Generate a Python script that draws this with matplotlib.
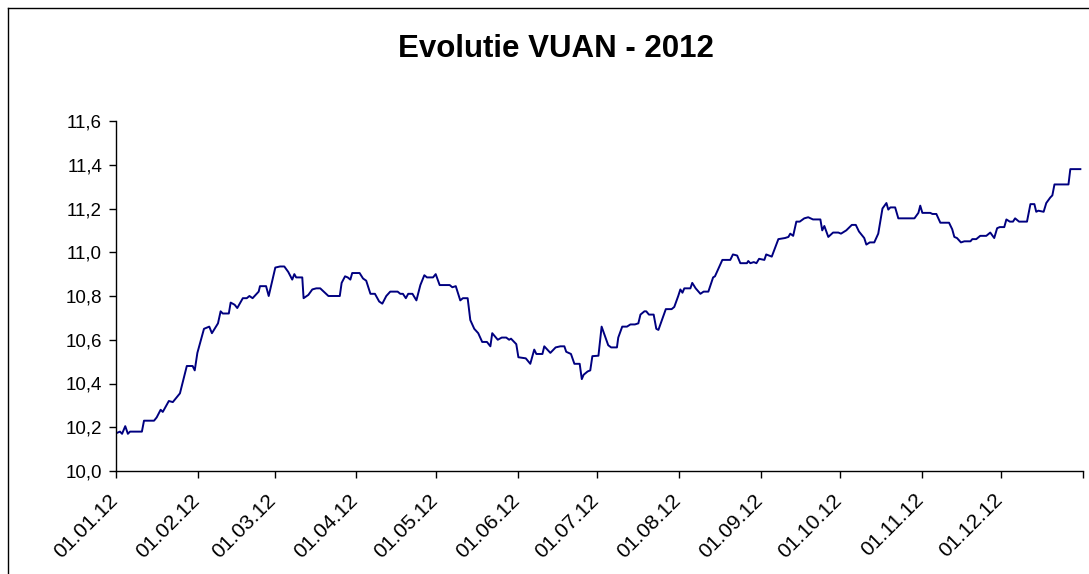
import numpy as np
import pandas as pd
import matplotlib
matplotlib.use("Agg")
import matplotlib.pyplot as plt
import matplotlib.transforms as mtransforms
from matplotlib.lines import Line2D

plt.rcParams['font.family'] = ['Liberation Sans', 'DejaVu Sans']

# days since 01.01.2012
days = [
    0.5, 1.5, 2.3, 3.5, 4.5, 5.3, 9.8, 10.6, 14.4, 15.4, 16.9, 17.7, 20.0, 21.5,
    24.2, 26.8, 29.0, 29.8, 30.8, 33.3, 35.3, 36.3, 38.6, 39.6, 40.4, 42.7, 43.4,
    44.9, 45.9, 48.0, 49.5, 50.5, 51.7, 54.0, 54.5, 56.8, 57.8, 60.3, 62.1,
    63.7, 65.2, 66.7, 67.5, 68.2, 70.5, 71.0, 72.8, 74.3, 75.8, 77.3, 80.4, 84.7,
    85.4, 86.7, 87.7, 88.7, 89.4, 92.2, 93.5, 94.7, 96.3, 98.0, 99.6, 100.8,
    102.3, 103.8, 106.6, 107.6, 108.6, 109.7, 110.6, 112.2, 113.7, 115.2, 116.7,
    117.7, 120.0, 121.0, 122.5,
    123.0, 126.3, 127.3, 128.6, 130.3, 131.3, 133.1, 134.1, 135.6, 137.1, 138.6,
    140.4, 141.7, 142.4, 144.5, 146.0, 147.7, 148.8, 149.5, 151.5, 152.3, 155.1,
    156.8, 158.3, 159.1, 161.4, 162.1, 164.4, 166.4, 168.2, 169.7, 170.4, 172.2,
    173.5, 175.5, 176.3, 177.0, 178.5, 179.5, 180.3, 182.6,
    183.8, 186.3, 187.4, 189.6, 190.1, 191.6, 193.4, 194.7, 196.4, 197.7, 198.5,
    200.0, 200.7, 201.7, 203.5, 204.5, 205.3, 208.1, 210.3, 211.3, 212.8, 213.6,
    214.4, 215.1, 217.4, 218.1, 219.4, 221.2, 222.4, 224.2, 226.0, 226.7, 229.5,
    232.5, 233.5, 235.1, 236.3, 238.8, 239.3, 240.1, 241.4, 242.4, 243.4,
    245.4, 246.1, 248.2, 250.7, 253.2, 254.5, 255.2, 256.3, 257.5, 258.8, 260.5,
    262.0, 263.8, 266.6, 267.3, 268.1, 269.6, 271.4, 273.4, 274.4, 276.4, 278.5,
    280.0, 281.2, 283.2, 284.0, 285.3, 287.0, 288.5, 290.1, 291.6, 292.3, 293.1,
    294.9, 296.1, 302.2, 303.7,
    304.4, 305.2, 308.2, 309.0, 310.5, 312.0, 315.3, 316.5, 317.3, 318.3, 319.8,
    321.1, 323.4, 324.1, 325.6, 327.1, 329.4, 330.9, 332.4, 333.5, 334.5, 336.2,
    337.0, 338.3, 339.5, 340.3, 341.8, 344.8, 346.1, 347.6, 348.3, 349.1, 351.1,
    352.1, 353.6, 354.4, 355.2, 360.5, 361.2, 365.0,
]

vuan = [
    10.175, 10.18, 10.17, 10.205, 10.17, 10.18, 10.18, 10.23, 10.23, 10.245, 10.28,
    10.27, 10.32, 10.315, 10.355, 10.48, 10.48, 10.46, 10.54, 10.65, 10.66, 10.63,
    10.675, 10.73, 10.72, 10.72, 10.77, 10.76, 10.745, 10.79, 10.79, 10.80, 10.79,
    10.82, 10.845, 10.845, 10.80, 10.93, 10.935,
    10.935, 10.91, 10.875, 10.90, 10.885, 10.885, 10.79, 10.805, 10.83, 10.835,
    10.835, 10.80, 10.80, 10.86, 10.89, 10.885, 10.875, 10.905, 10.905, 10.88,
    10.87, 10.81, 10.81, 10.775, 10.765, 10.80, 10.82, 10.82, 10.81, 10.81, 10.79,
    10.81, 10.81, 10.78, 10.85, 10.895, 10.885, 10.885, 10.90, 10.85,
    10.85, 10.85, 10.84, 10.845, 10.78, 10.79, 10.79, 10.69, 10.65, 10.63, 10.59,
    10.59, 10.57, 10.63, 10.60, 10.61, 10.61, 10.60, 10.605, 10.58, 10.52, 10.515,
    10.49, 10.555, 10.535, 10.535, 10.57, 10.54, 10.565, 10.57, 10.57, 10.545,
    10.535, 10.49, 10.49, 10.42, 10.44, 10.455, 10.46, 10.525, 10.527,
    10.66, 10.575, 10.565, 10.565, 10.61, 10.66, 10.66, 10.67, 10.67, 10.675,
    10.715, 10.73, 10.73, 10.715, 10.715, 10.65, 10.645, 10.74, 10.74, 10.75,
    10.80, 10.83, 10.815, 10.835, 10.835, 10.86, 10.835, 10.81, 10.82, 10.82,
    10.885, 10.89, 10.965, 10.965, 10.99, 10.985, 10.95, 10.95, 10.96, 10.95,
    10.955, 10.95, 10.97,
    10.965, 10.99, 10.98, 11.06, 11.065, 11.07, 11.085, 11.075, 11.14, 11.14,
    11.155, 11.16, 11.15, 11.15, 11.10, 11.12, 11.07, 11.09, 11.09, 11.085, 11.10,
    11.125, 11.125, 11.095, 11.065, 11.035, 11.045, 11.045, 11.085, 11.20, 11.225,
    11.195, 11.205, 11.205, 11.155, 11.155, 11.18,
    11.213, 11.18, 11.18, 11.175, 11.175, 11.135, 11.135, 11.105, 11.07, 11.065,
    11.045, 11.05, 11.05, 11.06, 11.06, 11.075, 11.075, 11.09, 11.065, 11.11,
    11.115, 11.115, 11.15, 11.14, 11.14, 11.155, 11.14, 11.14, 11.22, 11.22,
    11.185, 11.19, 11.185, 11.225, 11.25, 11.26, 11.31, 11.31, 11.38, 11.38,
]

month_ticks = ['2012-01-01', '2012-02-01', '2012-03-01', '2012-04-01', '2012-05-01',
               '2012-06-01', '2012-07-01', '2012-08-01', '2012-09-01', '2012-10-01',
               '2012-11-01', '2012-12-01', '2013-01-01']
month_labels = ['01.01.12', '01.02.12', '01.03.12', '01.04.12', '01.05.12', '01.06.12',
                '01.07.12', '01.08.12', '01.09.12', '01.10.12', '01.11.12', '01.12.12', '']
y_ticks = [10.0, 10.2, 10.4, 10.6, 10.8, 11.0, 11.2, 11.4, 11.6]

dates = pd.Timestamp('2012-01-01') + pd.to_timedelta(days, unit='D')

fig = plt.figure(figsize=(10.89, 5.74), dpi=100)
ax = fig.add_axes([116 / 1089, 1 - 471 / 574, 967 / 1089, 350 / 574])

ax.plot(dates, vuan, color='#000080', linewidth=1.4)

ax.set_xlim(pd.Timestamp('2012-01-01'), pd.Timestamp('2013-01-01'))
ax.set_ylim(10.0, 11.6)
ax.set_xticks(pd.to_datetime(month_ticks))
ax.set_xticklabels(month_labels, rotation=45, ha='right', va='top',
                   rotation_mode='anchor', fontsize=15)
ax.set_yticks(y_ticks)
ax.set_yticklabels([f"{v:.1f}".replace('.', ',') for v in y_ticks], fontsize=13.5)
ax.tick_params(axis='both', direction='out', length=5, width=1, color='black', pad=5)
ax.tick_params(axis='x', pad=9)

# shift the date labels a little to the left, as in the original
shift = mtransforms.ScaledTranslation(-8 / 100, 0, fig.dpi_scale_trans)
for lbl in ax.get_xticklabels():
    lbl.set_transform(lbl.get_transform() + shift)

for s in ['top', 'right']:
    ax.spines[s].set_visible(False)
for s in ['left', 'bottom']:
    ax.spines[s].set_color('black')
    ax.spines[s].set_linewidth(1)

fig.text(556 / 1089, 1 - 49 / 574, 'Evolutie VUAN - 2012', ha='center', va='center',
         fontsize=22.5, fontweight='bold')

# chart area border (cut off at right and bottom)
bx, by = 8 / 1089, 1 - 8 / 574
fig.add_artist(Line2D([bx, bx], [by, -0.01], color='black', linewidth=1,
                      transform=fig.transFigure))
fig.add_artist(Line2D([bx, 1.01], [by, by], color='black', linewidth=1,
                      transform=fig.transFigure))

fig.savefig('out.png', dpi=100)
